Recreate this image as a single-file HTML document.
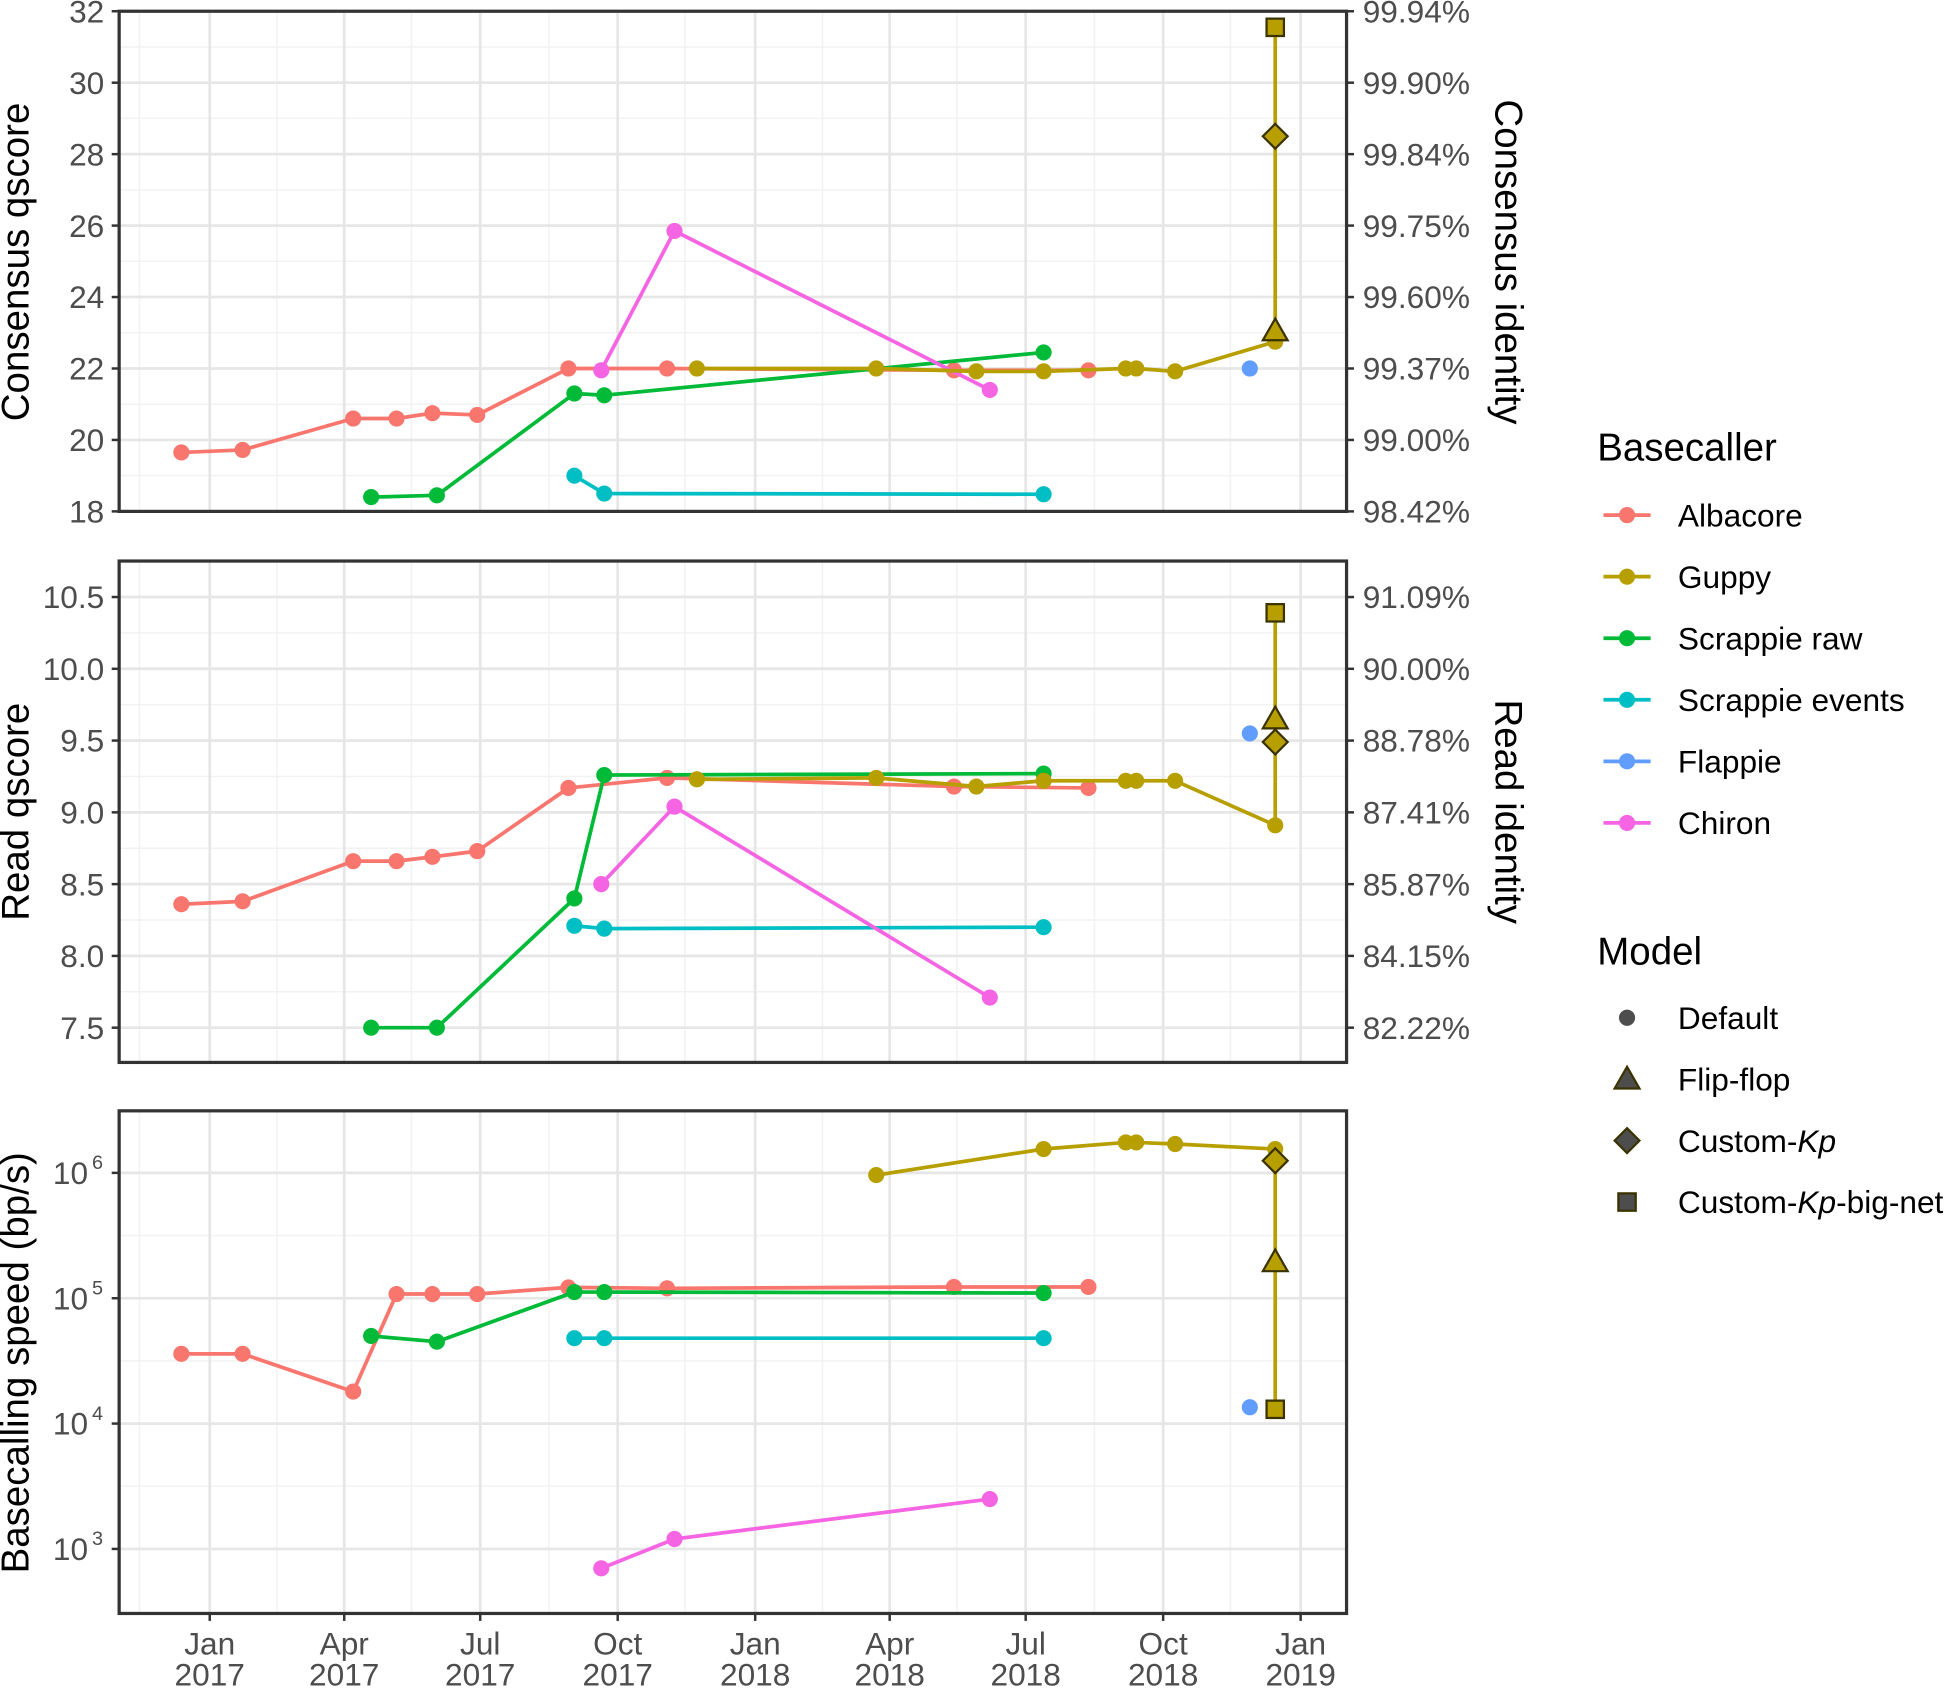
<!DOCTYPE html>
<html><head><meta charset="utf-8"><style>
html,body{margin:0;padding:0;background:#fff;}
svg{display:block;font-family:"Liberation Sans",Arial,sans-serif;}
</style></head><body>
<svg id="chart" xmlns="http://www.w3.org/2000/svg" width="1946" height="1688" viewBox="0 0 1568 1360"></svg>
<script>
// ---- data ----
const tickMonths = ["Jan","Apr","Jul","Oct","Jan","Apr","Jul","Oct","Jan"];
const tickYears = ["2017","2017","2017","2017","2018","2018","2018","2018","2019"];
const tickDates = ["2017-01-01","2017-04-01","2017-07-01","2017-10-01","2018-01-01","2018-04-01","2018-07-01","2018-10-01","2019-01-01"];
const consTicks = [18,20,22,24,26,28,30,32];
const consIdent = ["98.42%","99.00%","99.37%","99.60%","99.75%","99.84%","99.90%","99.94%"];
const readTicks = [7.5,8.0,8.5,9.0,9.5,10.0,10.5];
const readIdent = ["82.22%","84.15%","85.87%","87.41%","88.78%","90.00%","91.09%"];
const speedExp = [3,4,5,6];

const albDates = ["2016-12-13","2017-01-23","2017-04-07","2017-05-06","2017-05-30","2017-06-29","2017-08-29","2017-11-03","2018-05-14","2018-08-12"];
const albCons = [19.65,19.72,20.6,20.6,20.75,20.7,22.0,22.0,21.95,21.95];
const albRead = [8.36,8.38,8.66,8.66,8.69,8.73,9.17,9.24,9.18,9.17];
const albSpeed = [3.6e4,3.6e4,1.8e4,1.08e5,1.08e5,1.08e5,1.22e5,1.2e5,1.23e5,1.23e5];

const gupDates = ["2017-11-23","2018-03-23","2018-05-29","2018-07-13","2018-09-06","2018-09-13","2018-10-09","2018-12-15"];
const gupCons = [22.0,22.0,21.92,21.92,22.0,22.0,21.92,22.75];
const gupRead = [9.23,9.24,9.18,9.22,9.22,9.22,9.22,8.91];
const gupSpeed = [null,9.6e5,null,1.55e6,1.75e6,1.75e6,1.7e6,1.55e6];

const modelDate = "2018-12-15";
const modelNames = ["Flip-flop","Custom-Kp","Custom-Kp-big-net"];
const modelShapes = ["triangle","diamond","square"];
const modelCons = [23.05,28.5,31.55];
const modelRead = [9.65,9.49,10.39];
const modelSpeed = [1.95e5,1.25e6,1.3e4];

const rawDates = ["2017-04-19","2017-06-02","2017-09-02","2017-09-22","2018-07-13"];
const rawCons = [18.4,18.45,21.3,21.25,22.45];
const rawRead = [7.5,7.5,8.4,9.26,9.27];
const rawSpeed = [5.0e4,4.5e4,1.12e5,1.12e5,1.1e5];

const evtDates = ["2017-09-02","2017-09-22","2018-07-13"];
const evtCons = [19.0,18.5,18.48];
const evtRead = [8.21,8.19,8.2];
const evtSpeed = [4.8e4,4.8e4,4.8e4];

const flaDates = ["2018-11-28"];
const flaCons = [22.0];
const flaRead = [9.55];
const flaSpeed = [1.35e4];

const chiDates = ["2017-09-20","2017-11-08","2018-06-07"];
const chiCons = [21.95,25.85,21.4];
const chiRead = [8.5,9.04,7.71];
const chiSpeed = [700,1200,2500];

// ---- scales ----
const NS="http://www.w3.org/2000/svg";
const svg=document.getElementById('chart');
const X0=96,X1=1085;
const D0=Date.UTC(2017,0,1);
function day(s){const p=s.split('-');return (Date.UTC(+p[0],+p[1]-1,+p[2])-D0)/86400000;}
function xs(s){return 169+day(s)*(879/730);}
const panels=[
 {top:9,bot:412,y:v=>412-(v-18)*(403/14)},
 {top:452,bot:856,y:v=>828-(v-7.5)*(347/3)},
 {top:895,bot:1300,y:v=>1046-(Math.log10(v)-5)*101}
];
function el(tag,attrs,parent){const e=document.createElementNS(NS,tag);for(const k in attrs)e.setAttribute(k,attrs[k]);(parent||svg).appendChild(e);return e;}
function txt(x,y,s,attrs,parent){const t=el('text',Object.assign({x:x,y:y},attrs||{}),parent);t.textContent=s;return t;}

const FS=25.5;
// grid
const minorDates=["2016-11-15","2017-02-15","2017-05-16","2017-08-16","2017-11-15","2018-02-15","2018-05-16","2018-08-16","2018-11-15"];
const yGrid=[
 {major:consTicks,minor:[19,21,23,25,27,29,31]},
 {major:readTicks,minor:[7.75,8.25,8.75,9.25,9.75,10.25]},
 {major:speedExp.map(e=>Math.pow(10,e)),minor:[3.5,4.5,5.5].map(e=>Math.pow(10,e))}
];
panels.forEach((p,i)=>{
 const g=el('g',{});
 
 
 el('rect',{x:X0,y:p.top,width:X1-X0,height:p.bot-p.top,fill:'#fff'},g);
 minorDates.forEach(d=>el('line',{x1:xs(d),x2:xs(d),y1:p.top,y2:p.bot,stroke:'#F2F2F2','stroke-width':1.2},g));
 yGrid[i].minor.forEach(v=>el('line',{x1:X0,x2:X1,y1:p.y(v),y2:p.y(v),stroke:'#F2F2F2','stroke-width':1.2},g));
 tickDates.forEach(d=>el('line',{x1:xs(d),x2:xs(d),y1:p.top,y2:p.bot,stroke:'#E6E6E6','stroke-width':2.2},g));
 yGrid[i].major.forEach(v=>el('line',{x1:X0,x2:X1,y1:p.y(v),y2:p.y(v),stroke:'#E6E6E6','stroke-width':2.2},g));
});

const COL={alb:'#F8766D',gup:'#B79F00',raw:'#00BA38',evt:'#00BFC4',fla:'#619CFF',chi:'#F564E3'};
const series=[
 {k:'alb',name:'albacore',d:albDates,v:[albCons,albRead,albSpeed]},
 {k:'raw',name:'scrappie-raw',d:rawDates,v:[rawCons,rawRead,rawSpeed]},
 {k:'evt',name:'scrappie-events',d:evtDates,v:[evtCons,evtRead,evtSpeed]},
 {k:'fla',name:'flappie',d:flaDates,v:[flaCons,flaRead,flaSpeed]},
 {k:'chi',name:'chiron',d:chiDates,v:[chiCons,chiRead,chiSpeed]},
 {k:'gup',name:'guppy',d:gupDates,v:[gupCons,gupRead,gupSpeed]}
];
const modelVals=[modelCons,modelRead,modelSpeed];

function shape(sh,x,y,fill,parent){
 const st='#3a3300';
 if(sh==='triangle'){const r=10;return el('polygon',{points:`${x},${y-r} ${x-r},${y+r*0.75} ${x+r},${y+r*0.75}`,fill:fill,stroke:st,'stroke-width':1.8},parent);}
 if(sh==='diamond'){const r=10;return el('polygon',{points:`${x},${y-r} ${x+r},${y} ${x},${y+r} ${x-r},${y}`,fill:fill,stroke:st,'stroke-width':1.8},parent);}
 if(sh==='square'){const r=7;return el('rect',{x:x-r,y:y-r,width:2*r,height:2*r,fill:fill,stroke:st,'stroke-width':1.8},parent);}
 return el('circle',{cx:x,cy:y,r:6.5,fill:fill},parent);
}

panels.forEach((p,i)=>{
 const clip=el('g',{});
 
 
 series.forEach(s=>{
  const pts=[];
  s.d.forEach((d,j)=>{const v=s.v[i][j];if(v!==null&&v!==undefined)pts.push([xs(d),p.y(v)]);});
  if(pts.length>1){
   const pl=el('polyline',{points:pts.map(q=>q.join(',')).join(' '),fill:'none',stroke:COL[s.k],'stroke-width':3,'stroke-linejoin':'round'},clip);
   
   
  }
  if(s.k==='gup'){
   const mx=xs(modelDate);
   const lastDef=s.v[i][s.v[i].length-1];
   const ys=modelVals[i].map(v=>p.y(v)).concat([p.y(lastDef)]);
   const vl=el('line',{x1:mx,x2:mx,y1:Math.min(...ys),y2:Math.max(...ys),stroke:COL.gup,'stroke-width':3},clip);
   
   
  }
  pts.forEach(q=>{
   const c=shape('circle',q[0],q[1],COL[s.k],clip);
   
   
  });
  if(s.k==='gup'){
   modelVals[i].forEach((v,j)=>{
    const m=shape(modelShapes[j],xs(modelDate),p.y(v),COL.gup,clip);
    
    
   });
  }
 });
 const b=el('rect',{x:X0,y:p.top,width:X1-X0,height:p.bot-p.top,fill:'none',stroke:'#333','stroke-width':2.6});
 
 
});

// left ticks & labels
const tickStyle={'font-size':FS,fill:'#4D4D4D','text-anchor':'end'};
consTicks.forEach((v,j)=>{
 const y=panels[0].y(v);
 el('line',{x1:X0-6,x2:X0,y1:y,y2:y,stroke:'#333','stroke-width':2});
 const t=txt(X0-12,y+9,String(v),tickStyle);
 
 
 el('line',{x1:X1,x2:X1+6,y1:y,y2:y,stroke:'#333','stroke-width':2});
 const r=txt(X1+13,y+9,consIdent[j],{'font-size':FS,fill:'#4D4D4D'});
 
 
});
readTicks.forEach((v,j)=>{
 const y=panels[1].y(v);
 el('line',{x1:X0-6,x2:X0,y1:y,y2:y,stroke:'#333','stroke-width':2});
 const t=txt(X0-12,y+9,v.toFixed(1),tickStyle);
 
 
 el('line',{x1:X1,x2:X1+6,y1:y,y2:y,stroke:'#333','stroke-width':2});
 const r=txt(X1+13,y+9,readIdent[j],{'font-size':FS,fill:'#4D4D4D'});
 
 
});
speedExp.forEach(e=>{
 const y=panels[2].y(Math.pow(10,e));
 el('line',{x1:X0-6,x2:X0,y1:y,y2:y,stroke:'#333','stroke-width':2});
 const t=txt(X0-25,y+9,'10',tickStyle);
 
 
 const s=txt(X0-13,y-3,String(e),{'font-size':16,fill:'#4D4D4D','text-anchor':'end'});
 
 
});
// x ticks
tickDates.forEach((d,j)=>{
 const x=xs(d);
 el('line',{x1:x,x2:x,y1:1300,y2:1306,stroke:'#333','stroke-width':2});
 const a=txt(x,1333,tickMonths[j],{'font-size':FS,fill:'#4D4D4D','text-anchor':'middle'});
 
 
 const b=txt(x,1358,tickYears[j],{'font-size':FS,fill:'#4D4D4D','text-anchor':'middle'});
 
 
});
// axis titles
function vtitle(x,y,s,rot,name){const t=txt(0,0,s,{'font-size':31,fill:'#000','text-anchor':'middle',transform:`translate(${x},${y}) rotate(${rot})`});}
vtitle(23,211,'Consensus qscore',-90,'consensus-qscore-title');
vtitle(23,654,'Read qscore',-90,'read-qscore-title');
vtitle(23,1098,'Basecalling speed (bp/s)',-90,'speed-title');
vtitle(1205,211,'Consensus identity',90,'consensus-identity-title');
vtitle(1205,654,'Read identity',90,'read-identity-title');

// legend
const legNames=["Albacore","Guppy","Scrappie raw","Scrappie events","Flappie","Chiron"];
const legKeys=['alb','gup','raw','evt','fla','chi'];
const lt=txt(1287,371,'Basecaller',{'font-size':31,fill:'#000'});


legNames.forEach((n,j)=>{
 const y=415+j*49.6;
 const g=el('g',{});
 
 
 el('line',{x1:1292,x2:1330,y1:y,y2:y,stroke:COL[legKeys[j]],'stroke-width':3},g);
 el('circle',{cx:1311,cy:y,r:6.5,fill:COL[legKeys[j]]},g);
 txt(1352,y+9,n,{'font-size':FS,fill:'#000'},g);
});
const mt=txt(1287,777,'Model',{'font-size':31,fill:'#000'});


const mShapes=['circle','triangle','diamond','square'];
mShapes.forEach((sh,j)=>{
 const y=820+j*49.5;
 const g=el('g',{});
 
 
 shape(sh,1311,y,'#4D4D4D',g);
 const t=txt(1352,y+9,'',{'font-size':FS,fill:'#000'},g);
 if(j===0)t.textContent='Default';
 else if(j===1)t.textContent='Flip-flop';
 else{
  const a=el('tspan',{},t);a.textContent='Custom-';
  const b=el('tspan',{'font-style':'italic'},t);b.textContent='Kp';
  if(j===3){const c=el('tspan',{},t);c.textContent='-big-net';}
 }
});
</script>
</body></html>
